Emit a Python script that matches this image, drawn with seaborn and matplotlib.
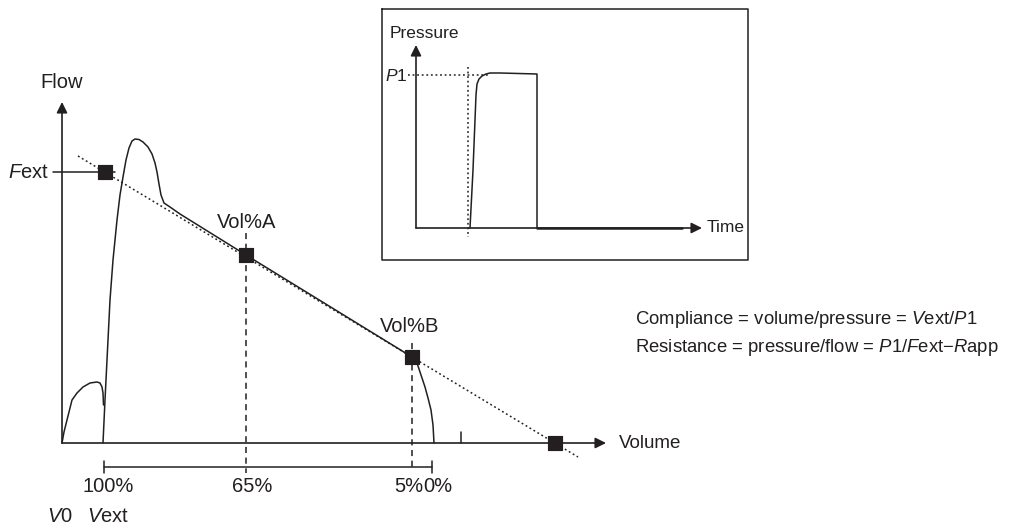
import matplotlib
matplotlib.use("Agg")
import matplotlib.pyplot as plt
import seaborn as sns
from matplotlib import font_manager

sns.set_theme(style="white")
_names = {f.name for f in font_manager.fontManager.ttflist}
FONT = "Liberation Sans Narrow" if "Liberation Sans Narrow" in _names else "Liberation Sans"
plt.rcParams["font.family"] = [FONT, "DejaVu Sans"]
plt.rcParams["mathtext.fontset"] = "custom"
plt.rcParams["mathtext.rm"] = FONT
plt.rcParams["mathtext.it"] = FONT + ":italic"

INK = "#231f20"

# ---------------- data (schematic, figure pixel space, y downward) -------------
# main flow-volume plot
origin_x, origin_y = 62, 443
flow_axis_top = 102
volume_axis_end = 606

small_loop_x = [62, 64, 67, 72, 77, 83, 90, 97, 100, 102, 103, 103.5]
small_loop_y = [443, 432, 420, 400, 393, 387, 383, 382, 383, 387, 393, 405]

big_curve_x = [103, 105, 107, 110, 113, 117, 120, 123, 126, 129, 132, 135, 139,
               143, 148, 152, 155, 157, 159, 161, 164, 170, 180, 246, 412]
big_curve_y = [443, 400, 360, 300, 260, 220, 195, 177, 160, 148, 141, 139, 139.5,
               142, 147, 154, 163, 172, 184, 195, 203, 207, 214, 255, 357]

end_curve_x = [412, 417, 421, 425, 428, 431, 433, 434]
end_curve_y = [357, 363, 375, 387, 398, 410, 425, 443]

fit_line_x = [78, 578]
fit_line_y = [156, 457]

square_x = [105, 246, 412, 555]
square_y = [172, 255, 357, 443]

fext_line_x = [53, 115]
fext_line_y = [172, 172]

vol_a_x, vol_a_top, vol_a_bottom = 246, 233, 473
vol_b_x, vol_b_top, vol_b_bottom = 412, 343, 470

bracket_left, bracket_right, bracket_y = 104, 432, 467
small_tick_x = 461

pct_labels = ["100%", "65%", "5%", "0%"]
pct_label_x = [108, 252, 409, 438]

# inset pressure-time plot
box_x = [382, 748, 748, 382, 382]
box_y = [9, 9, 260, 260, 9]
p_axis_x, p_axis_bottom, p_axis_top = 416, 228, 45
t_axis_end = 702
pressure_t = [470, 473, 475, 476, 477, 479, 482, 486, 490, 500, 537, 537]
pressure_p = [228, 170, 120, 95, 84, 79, 76, 74, 73, 73, 74, 228]
baseline_t = [537, 682]
baseline_p = [228, 228]
p1_level = 75
p1_dotted_x = [408, 488]
onset_x, onset_top, onset_bottom = 468, 67, 237

# ---------------- figure ----------------
fig = plt.figure(figsize=(10.13, 5.28), dpi=100)
ax = fig.add_axes([0, 0, 1, 1])
ax.set_xlim(0, 1013)
ax.set_ylim(528, 0)
ax.axis("off")

def line(x, y, lw=1.1, ls="-", **kw):
    sns.lineplot(x=x, y=y, sort=False, estimator=None, color=INK, lw=lw,
                 linestyle=ls, ax=ax, legend=False, **kw)

def arrow(x0, y0, x1, y1):
    ax.annotate("", xy=(x1, y1), xytext=(x0, y0),
                arrowprops=dict(arrowstyle="-|>", color=INK, lw=1.2,
                                mutation_scale=16, shrinkA=0, shrinkB=0))

# axes of main plot
arrow(origin_x, origin_y, origin_x, flow_axis_top)
arrow(origin_x, origin_y, volume_axis_end, origin_y)

# curves
line(small_loop_x, small_loop_y)
line(big_curve_x, big_curve_y)
line(end_curve_x, end_curve_y)
line(fit_line_x, fit_line_y, lw=1.1, ls=(0, (1.2, 1.8)))
line(fext_line_x, fext_line_y)
line([vol_a_x, vol_a_x], [vol_a_top, vol_a_bottom], ls=(0, (4, 3)))
line([vol_b_x, vol_b_x], [vol_b_top, vol_b_bottom], ls=(0, (4, 3)))
line([bracket_left, bracket_right], [bracket_y, bracket_y])
line([bracket_left, bracket_left], [bracket_y - 6, bracket_y + 6])
line([bracket_right, bracket_right], [bracket_y - 6, bracket_y + 6])
line([small_tick_x, small_tick_x], [origin_y - 11, origin_y])

sns.scatterplot(x=square_x, y=square_y, marker="s", s=110, color=INK,
                edgecolor=INK, ax=ax, zorder=5, legend=False)

FS = 14.5
ax.text(62, 83, "Flow", fontsize=FS, ha="center", va="center", color=INK)
ax.text(8, 173, r"$\mathit{F}$ext", fontsize=FS, ha="left", va="center", color=INK)
ax.text(247, 223, "Vol%A", fontsize=FS, ha="center", va="center", color=INK)
ax.text(410, 326, "Vol%B", fontsize=FS, ha="center", va="center", color=INK)
ax.text(619, 443, "Volume", fontsize=13.5, ha="left", va="center", color=INK)
for lab, lx in zip(pct_labels, pct_label_x):
    ax.text(lx, 487, lab, fontsize=FS, ha="center", va="center", color=INK)
ax.text(60, 517, r"$\mathit{V}$0", fontsize=FS, ha="center", va="center", color=INK)
ax.text(108, 517, r"$\mathit{V}$ext", fontsize=FS, ha="center", va="center", color=INK)

EQ = 13.3
ax.text(635, 320, r"Compliance = volume/pressure = $\mathit{V}$ext/$\mathit{P}$1",
        fontsize=EQ, ha="left", va="center", color=INK)
ax.text(635, 347, r"Resistance = pressure/flow = $\mathit{P}$1/$\mathit{F}$ext$-$$\mathit{R}$app",
        fontsize=EQ, ha="left", va="center", color=INK)

# inset
line(box_x, box_y, lw=1.1)
arrow(p_axis_x, p_axis_bottom, p_axis_x, p_axis_top)
arrow(p_axis_x, p_axis_bottom, t_axis_end, p_axis_bottom)
line(pressure_t, pressure_p)
line(baseline_t, baseline_p, lw=1.8)
line(p1_dotted_x, [p1_level, p1_level], ls=(0, (1.2, 1.8)))
line([onset_x, onset_x], [onset_top, onset_bottom], ls=(0, (1.2, 1.8)))
IS = 12.5
ax.text(390, 33, "Pressure", fontsize=IS, ha="left", va="center", color=INK)
ax.text(407, 76, r"$\mathit{P}$1", fontsize=IS, ha="right", va="center", color=INK)
ax.text(707, 228, "Time", fontsize=IS, ha="left", va="center", color=INK)

fig.savefig("out.png", dpi=100, facecolor="white")
